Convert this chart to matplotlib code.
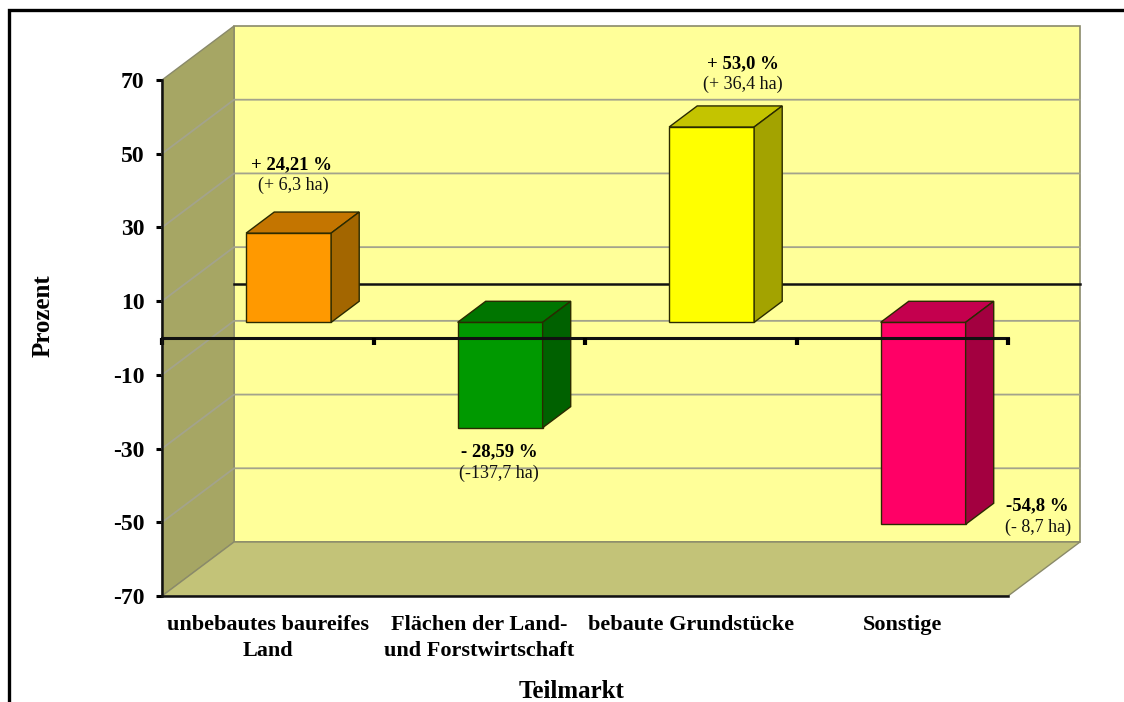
import matplotlib

matplotlib.use('Agg')
import matplotlib.pyplot as plt
from matplotlib.patches import Polygon

plt.rcParams['font.family'] = ['Liberation Serif', 'DejaVu Serif']

categories = ['unbebautes baureifes\nLand', 'Flächen der Land-\nund Forstwirtschaft', 'bebaute Grundstücke', 'Sonstige']
values = [24.21, -28.59, 53.0, -54.8]
percent_labels = ['+ 24,21 %', '- 28,59 %', '+ 53,0 %', '-54,8 %']
ha_labels = ['(+ 6,3 ha)', '(-137,7 ha)', '(+ 36,4 ha)', '(- 8,7 ha)']
y_ticks = [70, 50, 30, 10, -10, -30, -50, -70]
y_tick_labels = ['70', '50', '30', '10', '-10', '-30', '-50', '-70']

front_colors = ['#ff9900', '#009900', '#ffff00', '#ff0066']
top_colors = ['#c47500', '#007500', '#c4c400', '#c4004e']
side_colors = ['#a36600', '#006100', '#a3a300', '#a30040']

W, H = 1124, 702
# pixel box of the front plane of the chart
LEFT, RIGHT, TOP, BOTTOM = 162, 1008, 80, 596

fig = plt.figure(figsize=(W / 100, H / 100), dpi=100, facecolor='white')
ax = fig.add_axes([LEFT / W, 1 - BOTTOM / H, (RIGHT - LEFT) / W, (BOTTOM - TOP) / H])
ax.set_xlim(0, 4)
ax.set_ylim(-70, 70)
ax.patch.set_visible(False)

# depth of the fake 3d box in data units
DX = 72 / ((RIGHT - LEFT) / 4)
DY = 54 / ((BOTTOM - TOP) / 140)
y_min, y_max = ax.get_ylim()
x_min, x_max = ax.get_xlim()

wall_edge = '#8a8a6a'
# walls
ax.add_patch(Polygon([(x_min + DX, y_min + DY), (x_max + DX, y_min + DY), (x_max + DX, y_max + DY), (x_min + DX, y_max + DY)],
                     facecolor='#ffff99', edgecolor=wall_edge, lw=1.2, clip_on=False, zorder=1))
ax.add_patch(Polygon([(x_min, y_min), (x_min + DX, y_min + DY), (x_min + DX, y_max + DY), (x_min, y_max)],
                     facecolor='#a6a664', edgecolor=wall_edge, lw=1.0, clip_on=False, zorder=1))
ax.add_patch(Polygon([(x_min, y_min), (x_max, y_min), (x_max + DX, y_min + DY), (x_min + DX, y_min + DY)],
                     facecolor='#c3c378', edgecolor=wall_edge, lw=1.0, clip_on=False, zorder=1))

# gridlines along back wall and left wall
for t in y_ticks[1:-1]:
    ax.plot([x_min, x_min + DX, x_max + DX], [t, t + DY, t + DY], color='#a3a38c', lw=1.3, clip_on=False, zorder=2)

# zero line on back wall
ax.plot([x_min + DX, x_max + DX], [DY, DY], color='#111111', lw=1.8, clip_on=False, zorder=2.5)

# bars
bar_w = 85 / ((RIGHT - LEFT) / 4)
off = 0.29
depth = 0.39
for i, v in enumerate(values):
    x0 = i + 0.5 + off * DX - bar_w / 2
    x1 = x0 + bar_w
    y0 = off * DY
    y1 = off * DY + v
    hi = max(y0, y1)
    lo = min(y0, y1)
    dx, dy = depth * DX, depth * DY
    edge = '#2a2a00'
    ax.add_patch(Polygon([(x0, lo), (x1, lo), (x1, hi), (x0, hi)], facecolor=front_colors[i], edgecolor=edge, lw=1.0, clip_on=False, zorder=3))
    ax.add_patch(Polygon([(x0, hi), (x1, hi), (x1 + dx, hi + dy), (x0 + dx, hi + dy)], facecolor=top_colors[i], edgecolor=edge, lw=1.0, clip_on=False, zorder=3))
    ax.add_patch(Polygon([(x1, lo), (x1 + dx, lo + dy), (x1 + dx, hi + dy), (x1, hi)], facecolor=side_colors[i], edgecolor=edge, lw=1.0, clip_on=False, zorder=3))

# front zero line with its ticks, drawn over the bars
ax.plot([x_min, x_max], [0, 0], color='#111111', lw=2.2, clip_on=False, zorder=4)
ax.vlines(range(5), -1.9, 0, color='black', lw=3, clip_on=False, zorder=4)

# axes
for name in ['top', 'right']:
    ax.spines[name].set_visible(False)
for name in ['left', 'bottom']:
    ax.spines[name].set_linewidth(1.8)
    ax.spines[name].set_color('#111111')
    ax.spines[name].set_zorder(5)
ax.set_yticks(y_ticks)
ax.set_yticklabels(y_tick_labels, fontsize=17, fontweight='bold')
ax.tick_params(axis='y', length=4.5, width=2.2, pad=8)
ax.set_xticks([i + 0.5 for i in range(4)])
ax.set_xticklabels(categories, fontsize=16, fontweight='bold', linespacing=1.38)
ax.tick_params(axis='x', length=0, pad=14)

# value labels, positions in picture pixels
label_px = [(291, 164.5, 293, 185), (499, 451.5, 499, 473), (743, 63.5, 743, 84), (1037, 505.5, 1038, 527)]
for (px1, py1, px2, py2), pct, ha_txt in zip(label_px, percent_labels, ha_labels):
    fig.text(px1 / W, 1 - py1 / H, pct, fontsize=13.5, fontweight='bold', ha='center', va='center')
    fig.text(px2 / W, 1 - py2 / H, ha_txt, fontsize=13, ha='center', va='center', color='#111111')

fig.text(43 / W, 1 - 316 / H, 'Prozent', fontsize=18, fontweight='bold', rotation=90, ha='center', va='center')
fig.text(572 / W, 1 - 691.5 / H, 'Teilmarkt', fontsize=18, fontweight='bold', ha='center', va='center')

# outer frame, cut off by the picture on the right and at the bottom
fig.add_artist(plt.Line2D([9 / W, 9 / W, 1], [0, 1 - 9.5 / H, 1 - 9.5 / H], color='black', lw=2.4, solid_joinstyle='miter'))

fig.savefig('out.png', dpi=100, facecolor='white')
